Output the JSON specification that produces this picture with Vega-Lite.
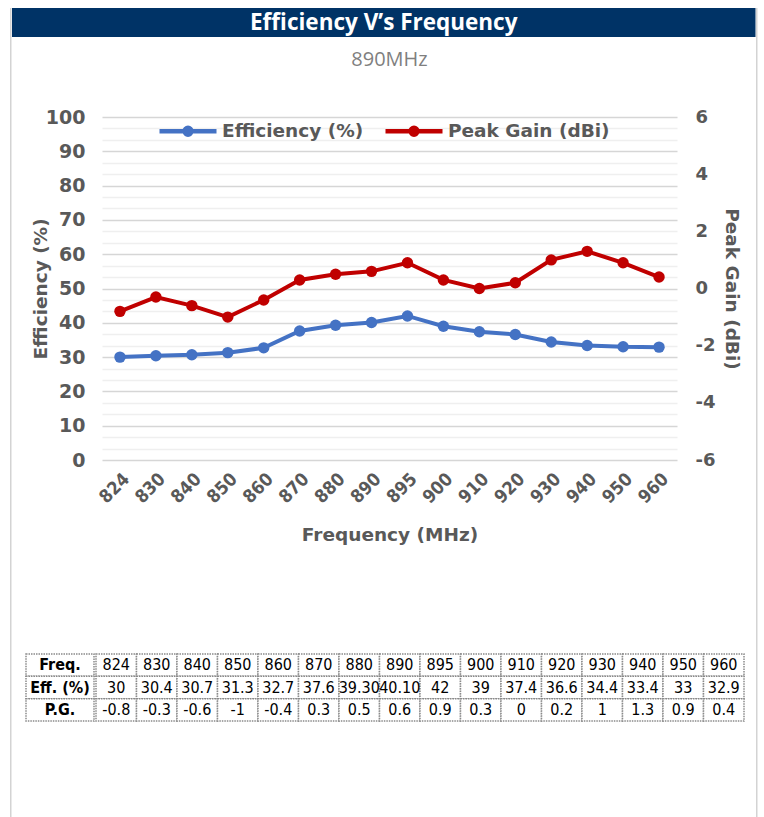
{
  "$schema": "https://vega.github.io/schema/vega-lite/v6.json",
  "background": "white",
  "padding": {"left": 10, "top": 8, "right": 0, "bottom": 0},
  "config": {"view": {"stroke": null}},
  "spacing": 0,
  "resolve": {"scale": {"color": "independent"}, "legend": {"color": "independent"}},
  "datasets": {
    "header": [{"t": "Efficiency V’s Frequency"}],
    "rowlabels": [{"row": "Freq."}, {"row": "Eff. (%)"}, {"row": "P.G."}],
    "meas": [
      {"freq": 824, "eff": 30, "pg": -0.8, "effText": "30"},
      {"freq": 830, "eff": 30.4, "pg": -0.3, "effText": "30.4"},
      {"freq": 840, "eff": 30.7, "pg": -0.6, "effText": "30.7"},
      {"freq": 850, "eff": 31.3, "pg": -1, "effText": "31.3"},
      {"freq": 860, "eff": 32.7, "pg": -0.4, "effText": "32.7"},
      {"freq": 870, "eff": 37.6, "pg": 0.3, "effText": "37.6"},
      {"freq": 880, "eff": 39.3, "pg": 0.5, "effText": "39.30"},
      {"freq": 890, "eff": 40.1, "pg": 0.6, "effText": "40.10"},
      {"freq": 895, "eff": 42, "pg": 0.9, "effText": "42"},
      {"freq": 900, "eff": 39, "pg": 0.3, "effText": "39"},
      {"freq": 910, "eff": 37.4, "pg": 0, "effText": "37.4"},
      {"freq": 920, "eff": 36.6, "pg": 0.2, "effText": "36.6"},
      {"freq": 930, "eff": 34.4, "pg": 1, "effText": "34.4"},
      {"freq": 940, "eff": 33.4, "pg": 1.3, "effText": "33.4"},
      {"freq": 950, "eff": 33, "pg": 0.9, "effText": "33"},
      {"freq": 960, "eff": 32.9, "pg": 0.4, "effText": "32.9"}
    ],
    "blank": [{}]
  },
  "hconcat": [
    {"width": 1.5, "height": 809, "data": {"name": "blank"}, "mark": {"type": "rect", "fill": "#d3d3d3"}, "encoding": {}},
    {
      "spacing": 13,
      "resolve": {"scale": {"color": "independent"}, "legend": {"color": "independent"}},
      "vconcat": [
        {
          "width": 743.5,
          "height": 29,
          "data": {"name": "header"},
          "layer": [
            {"mark": {"type": "rect", "fill": "#003366"}, "encoding": {}},
            {"mark": {"type": "text", "color": "white", "font": "Open Sans", "fontSize": 22.5, "fontWeight": "bold"}, "encoding": {"text": {"field": "t", "type": "nominal"}}}
          ]
        },
        {
          "spacing": 108,
          "resolve": {"scale": {"color": "independent"}, "legend": {"color": "independent"}},
          "vconcat": [
            {
              "spacing": 0,
              "resolve": {"scale": {"color": "independent"}, "legend": {"color": "independent"}},
              "hconcat": [
                {"width": 18.5, "height": 1, "data": {"name": "blank"}, "mark": {"type": "rect", "opacity": 0}, "encoding": {}},
                {
                  "width": 575,
                  "height": 343,
                  "title": {"text": "890MHz", "font": "Open Sans", "fontSize": 20, "fontWeight": "normal", "color": "#7f7f7f", "offset": 30},
                  "data": {"name": "meas"},
                  "encoding": {
                    "x": {
                      "field": "freq", "type": "ordinal", "scale": {"padding": 0.5},
                      "axis": {
                        "labelAngle": -45, "labelFont": "DejaVu Sans Condensed", "labelFontWeight": "bold", "labelFontSize": 18, "labelColor": "#595959",
                        "labelPadding": 10, "ticks": false, "domain": false, "grid": false,
                        "title": "Frequency (MHz)", "titleFont": "DejaVu Sans", "titleFontWeight": "bold", "titleFontSize": 18.5, "titleColor": "#595959", "titlePadding": 19
                      }
                    }
                  },
                  "layer": [
                    {
                      "mark": {"type": "line", "strokeWidth": 4, "point": {"filled": true, "size": 130}},
                      "encoding": {
                        "y": {
                          "field": "eff", "type": "quantitative", "scale": {"domain": [0, 100]},
                          "axis": {
                            "orient": "left",
                            "values": [0, 3.3333, 6.6667, 10, 13.3333, 16.6667, 20, 23.3333, 26.6667, 30, 33.3333, 36.6667, 40, 43.3333, 46.6667, 50, 53.3333, 56.6667, 60, 63.3333, 66.6667, 70, 73.3333, 76.6667, 80, 83.3333, 86.6667, 90, 93.3333, 96.6667, 100],
                            "labelExpr": "abs(datum.value - round(datum.value/10)*10) < 0.01 ? '' + round(datum.value) : ''",
                            "labelOverlap": false, "labelBound": false,
                            "labelFont": "DejaVu Sans", "labelFontWeight": "bold", "labelFontSize": 19, "labelColor": "#595959", "labelPadding": 17,
                            "ticks": false, "domain": false,
                            "grid": true,
                            "gridColor": {"condition": {"test": "abs(datum.value - round(datum.value/10)*10) < 0.01", "value": "#d6d6d6"}, "value": "#efefef"},
                            "gridWidth": 1.6,
                            "title": "Efficiency (%)", "titleFont": "DejaVu Sans", "titleFontWeight": "bold", "titleFontSize": 18.5, "titleColor": "#595959", "titlePadding": -5
                          }
                        },
                        "color": {
                          "datum": "Efficiency (%)",
                          "scale": {"domain": ["Efficiency (%)", "Peak Gain (dBi)"], "range": ["#4472C4", "#C00000"]},
                          "legend": {
                            "title": null, "orient": "none", "legendX": 55, "legendY": -17, "direction": "horizontal",
                            "symbolType": "M-1,0H1M-0.12,0A0.12,0.12,0,1,1,0.12,0A0.12,0.12,0,1,1,-0.12,0Z",
                            "symbolSize": 3249, "symbolStrokeWidth": 4.5,
                            "labelFont": "DejaVu Sans", "labelFontWeight": "bold", "labelFontSize": 18.5, "labelColor": "#595959",
                            "labelOffset": 3, "columnPadding": 12, "labelLimit": 400,
                            "encode": {"symbols": {"update": {"fill": {"scale": "color", "field": "value"}, "stroke": {"scale": "color", "field": "value"}}}}
                          }
                        }
                      }
                    },
                    {
                      "mark": {"type": "line", "strokeWidth": 4, "point": {"filled": true, "size": 130}},
                      "encoding": {
                        "y": {
                          "field": "pg", "type": "quantitative", "scale": {"domain": [-6, 6]},
                          "axis": {
                            "orient": "right", "values": [-6, -4, -2, 0, 2, 4, 6],
                            "labelExpr": "'' + datum.value",
                            "labelFont": "DejaVu Sans", "labelFontWeight": "bold", "labelFontSize": 18, "labelColor": "#595959", "labelPadding": 18,
                            "ticks": false, "domain": false, "grid": false,
                            "title": "Peak Gain (dBi)", "titleFont": "DejaVu Sans", "titleFontWeight": "bold", "titleFontSize": 18.5, "titleColor": "#595959", "titlePadding": 7
                          }
                        },
                        "color": {"datum": "Peak Gain (dBi)"}
                      }
                    }
                  ],
                  "resolve": {"scale": {"y": "independent"}}
                }
              ]
            },
            {
              "spacing": 0,
              "hconcat": [
                {"width": 12.5, "height": 1, "data": {"name": "blank"}, "mark": {"type": "rect", "opacity": 0}, "encoding": {}},
                {
                  "width": 68,
                  "height": 67,
                  "data": {"name": "rowlabels"},
                  "encoding": {
                    "y": {"field": "row", "type": "ordinal", "sort": ["Freq.", "Eff. (%)", "P.G."], "scale": {"paddingInner": 0, "paddingOuter": 0}, "axis": null}
                  },
                  "layer": [
                    {"mark": {"type": "rect", "fill": "white", "stroke": "#8a8a8a", "strokeWidth": 1.5, "strokeDash": [1.5, 1]}},
                    {"mark": {"type": "text", "font": "DejaVu Sans Condensed", "fontSize": 16, "fontWeight": "bold", "color": "black"}, "encoding": {"text": {"field": "row", "type": "nominal"}}}
                  ]
                },
                {
                  "width": 648,
                  "height": 67,
                  "data": {"name": "meas"},
                  "transform": [{"fold": ["freq", "effText", "pg"], "as": ["row", "val"]}],
                  "encoding": {
                    "x": {"field": "freq", "type": "ordinal", "scale": {"paddingInner": 0, "paddingOuter": 0}, "axis": null},
                    "y": {"field": "row", "type": "ordinal", "sort": ["freq", "effText", "pg"], "scale": {"paddingInner": 0, "paddingOuter": 0}, "axis": null}
                  },
                  "layer": [
                    {"mark": {"type": "rect", "fill": "white", "stroke": "#8a8a8a", "strokeWidth": 1.5, "strokeDash": [1.5, 1]}},
                    {"mark": {"type": "text", "font": "DejaVu Sans Condensed", "fontSize": 16, "color": "black"}, "encoding": {"text": {"field": "val", "type": "nominal"}}}
                  ]
                }
              ]
            }
          ]
        }
      ]
    },
    {"width": 1.5, "height": 809, "data": {"name": "blank"}, "mark": {"type": "rect", "fill": "#d3d3d3"}, "encoding": {}}
  ]
}
